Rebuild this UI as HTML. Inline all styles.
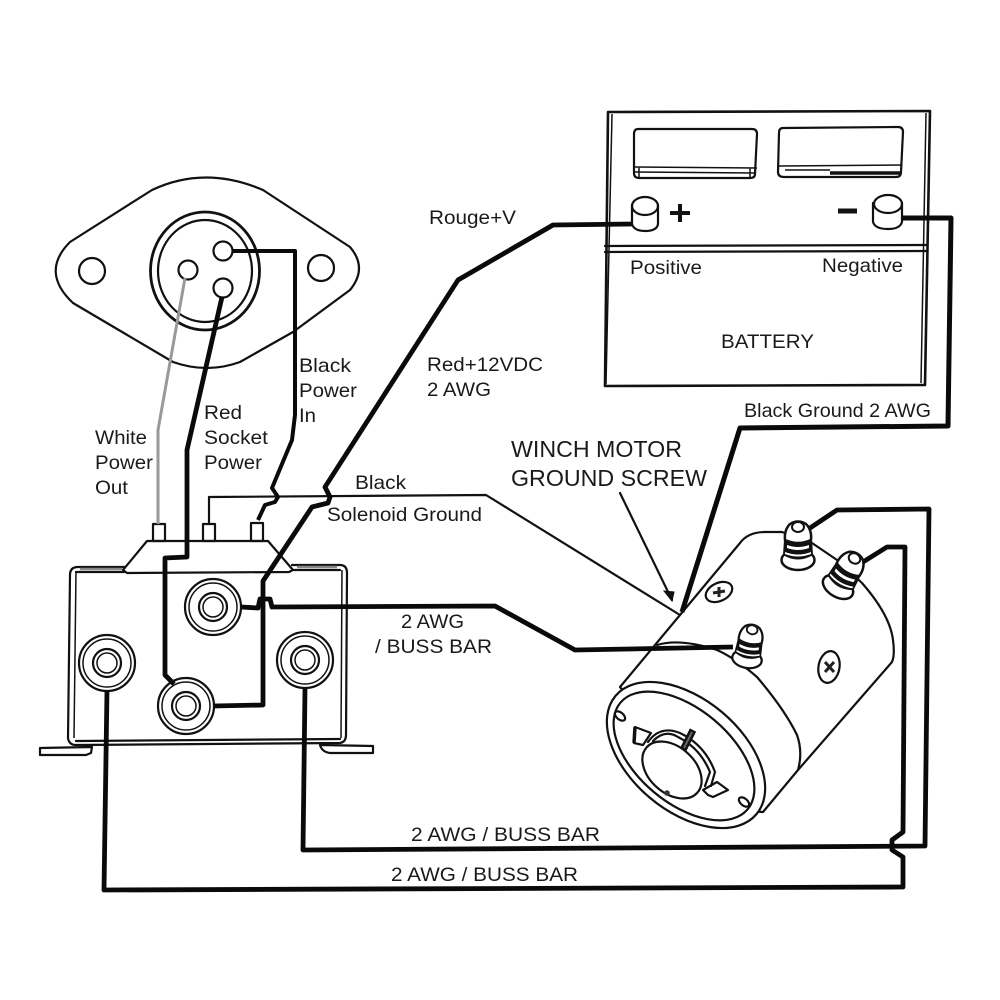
<!DOCTYPE html>
<html><head><meta charset="utf-8"><style>
html,body{margin:0;padding:0;background:#fff}
svg{display:block}
text{font-family:"Liberation Sans",sans-serif;fill:#1a1a1a;font-size:19.5px}
.l{fill:none;stroke:#111;stroke-width:2.2;stroke-linejoin:round;stroke-linecap:round}
.t{fill:none;stroke:#111;stroke-width:1.5;stroke-linejoin:round}
.w{fill:none;stroke:#0a0a0a;stroke-width:4.8;stroke-linejoin:round}
.f{fill:#fff;stroke:#111;stroke-width:2.2;stroke-linejoin:round}
</style></head><body>
<svg width="1000" height="1000" viewBox="0 0 1000 1000" xmlns="http://www.w3.org/2000/svg">
<defs>
<g id="stud">
<ellipse cx="0" cy="0" rx="16.5" ry="10" fill="#fff" stroke="#111" stroke-width="2.5"/>
<path d="M-14,-20 L14,-20 L15,-5 Q0,4 -15,-5 Z" fill="#111"/>
<path d="M-11,-15 Q0,-11 11,-15 L11,-12 Q0,-8 -11,-12 Z M-13,-8 Q0,-3 13,-8 L13,-6 Q0,-1 -13,-6 Z" fill="#fff"/>
<path d="M-13,-20 Q-14,-30 -8,-36 Q0,-41 8,-36 Q14,-30 13,-20 Q0,-14 -13,-20 Z" fill="#fff" stroke="#111" stroke-width="2.5"/>
<ellipse cx="0" cy="-33" rx="6" ry="5" fill="#fff" stroke="#111" stroke-width="2"/>
</g>
</defs>
<rect width="1000" height="1000" fill="#fff"/>

<!-- Battery -->
<path class="l" d="M608,112 L930,111 L925,385 L605,386 Z" style="stroke-width:2.6"/>
<path class="t" d="M612,114 L606,384 M926,113 L921,383"/>
<path class="l" d="M605,246 L926,245 M605,252 L926,251"/>
<path class="l" d="M638,129 L752,129 Q757,129 757,134 L755,174 Q755,178 750,178 L639,178 Q634,178 634,173 L634,134 Q634,129 638,129 Z"/>
<path class="t" d="M634,167 L757,168 M635,172 L755,173 M639,167 L639,178 M750,168 L750,177"/>
<path class="l" d="M783,128 L898,127 Q903,127 903,132 L901,172 Q901,177 896,177 L784,177 Q778,177 778,172 L779,133 Q779,128 783,128 Z"/>
<path class="t" d="M779,166 L902,165 M785,170 L830,170"/>
<path d="M830,173 L900,173" stroke="#111" stroke-width="3.5"/>
<path class="l" d="M632,205 L632,224 Q634,231 645,231 Q657,231 658,224 L658,205"/>
<ellipse class="l" cx="645" cy="206" rx="13" ry="9"/>
<path class="l" d="M873,203 L873,222 Q875,229 888,229 Q900,229 902,222 L902,203"/>
<ellipse class="l" cx="888" cy="204" rx="14" ry="9"/>
<path d="M680,204 V222 M670,213 H690" stroke="#111" stroke-width="4"/>
<path d="M838,211 H857" stroke="#111" stroke-width="5"/>
<text x="630" y="274" textLength="72" lengthAdjust="spacingAndGlyphs">Positive</text>
<text x="822" y="272" textLength="81" lengthAdjust="spacingAndGlyphs">Negative</text>
<text x="721" y="348" textLength="93" lengthAdjust="spacingAndGlyphs">BATTERY</text>

<!-- Socket plate -->
<path class="l" d="M70,242 L152,190 Q205,165 263,190 L350,247 Q368,268 350,290 L293,332 L240,362 Q207,374 173,362 L73,303 Q40,272 70,242 Z"/>
<circle class="l" cx="92" cy="271" r="13"/>
<circle class="l" cx="321" cy="268" r="13"/>
<ellipse cx="205" cy="271" rx="54.5" ry="59" fill="none" stroke="#111" stroke-width="2.8"/>
<ellipse class="l" cx="205" cy="271" rx="47" ry="51"/>
<circle class="l" cx="223" cy="251" r="9.5"/>
<circle class="l" cx="188" cy="270" r="9.5"/>
<circle class="l" cx="223" cy="288" r="9.5"/>

<!-- Solenoid box -->
<path class="l" d="M128,567 L78,567 Q70,567 70,575 L68,738 Q69,745 76,745 L340,743 Q346,742 346,735 L347,573 Q347,565 340,565 L292,565"/>
<path class="t" d="M76,571 L74,738 M342,570 L341,738"/>
<path class="l" d="M76,572 L124,572 M294,570 L340,570 M76,741 L340,739"/>
<path d="M80,569 H122 M297,567 H337" stroke="#888" stroke-width="2.5"/>
<path class="f" d="M147,541 L268,541 L293,570 L289,572 L127,573 L123,570 Z"/>
<path class="l" d="M92,747 L91,753 L86,755 L40,755 L40,748 L92,747 M320,745 Q322,752 330,753 L373,753 L373,746 L320,745"/>
<rect class="l" x="153" y="524" width="12" height="17"/>
<rect class="l" x="203" y="524" width="12" height="17"/>
<rect class="l" x="251" y="523" width="12" height="18"/>

<!-- Terminal studs -->
<g><circle class="f" cx="213" cy="607" r="28"/><circle class="t" cx="213" cy="607" r="24"/><circle class="l" cx="213" cy="607" r="14"/><circle class="t" cx="213" cy="607" r="10"/></g>
<g><circle class="f" cx="107" cy="663" r="28"/><circle class="t" cx="107" cy="663" r="24"/><circle class="l" cx="107" cy="663" r="14"/><circle class="t" cx="107" cy="663" r="10"/></g>
<g><circle class="f" cx="305" cy="660" r="28"/><circle class="t" cx="305" cy="660" r="24"/><circle class="l" cx="305" cy="660" r="14"/><circle class="t" cx="305" cy="660" r="10"/></g>
<g><circle class="f" cx="186" cy="706" r="28"/><circle class="t" cx="186" cy="706" r="24"/><circle class="l" cx="186" cy="706" r="14"/><circle class="t" cx="186" cy="706" r="10"/></g>

<!-- Motor -->
<path class="f" d="M620,687 L740,543 Q748,532 765,532 L782,532 L812,543 L840,562 L862,583 Q890,615 893,640 Q895,655 892,662 L798,770 L763,812 L720,810 Z"/>
<ellipse class="f" cx="686" cy="755" rx="92" ry="56" transform="rotate(40 686 755)"/>
<ellipse class="l" cx="684" cy="756" rx="83" ry="47" transform="rotate(40 684 756)"/>
<path class="l" d="M657,645 Q680,638 717,650 Q735,658 757,677 Q785,710 797,735 Q803,752 798,770"/>
<ellipse class="l" cx="620" cy="716" rx="6" ry="3.5" transform="rotate(40 620 716)"/>
<ellipse class="l" cx="744" cy="802" rx="6" ry="3.5" transform="rotate(40 744 802)"/>
<path class="l" d="M635,727 L651,733 L643,745 L634,743 Z"/>
<path d="M635,727 L634,743" stroke="#111" stroke-width="3.5"/>
<path class="l" d="M703,790 L717,782 L728,790 L713,797 L708,795 Z"/>
<path class="l" d="M648,742 Q660,725 680,733 Q705,745 715,772 L711,786"/>
<path class="l" d="M653,741 Q665,729 678,737 Q700,748 710,772 L705,786"/>
<ellipse class="f" cx="672" cy="770" rx="34" ry="23" transform="rotate(42 672 770)"/>
<path d="M683,750 L693,730" stroke="#111" stroke-width="7"/>
<path d="M684,748 L692,732" stroke="#666" stroke-width="2"/>
<circle cx="667" cy="793" r="2.8" fill="#333"/>
<ellipse class="l" cx="719" cy="592" rx="14" ry="9" transform="rotate(-25 719 592)"/>
<path d="M713,593 L725,591 M719,587 L719,597" stroke="#222" stroke-width="3"/>
<ellipse class="l" cx="829" cy="667" rx="10.5" ry="16" transform="rotate(10 829 667)"/>
<path d="M825,662 L834,672 M834,662 L825,672" stroke="#222" stroke-width="3"/>

<!-- Thin lines -->
<path class="l" d="M209,524 L209,497 L486,495 L680,615"/>
<path class="l" d="M620,493 L672,600"/>
<path d="M664,591 L674,592 L672,601 Z" fill="#111" stroke="#111"/>

<!-- White wire -->
<path d="M185,278 L158,430 L158,524" fill="none" stroke="#999" stroke-width="3"/>

<!-- Wires -->
<path class="w" d="M222,297 L187,450 L187,557 L165,558 L165,675 L174,684"/>
<path class="w" style="stroke-width:4" d="M232,251 L295,251 L295,415 L292,440 L272,488 L278,497 L275,502 L265,505 L258,520"/>
<path class="w" d="M633,224 L553,225 L458,280 L325,487 L330,497 L328,503 L312,507 L267,575 L263,581 L263,705 L213,706"/>
<path class="w" d="M241,607 L258,608 L260,599 L270,599 L272,607 L495,606 L575,650 L733,647"/>
<path class="w" d="M902,218 L951,218 L948,426 L740,428 L682,612" style="stroke-width:5"/>
<path class="w" d="M810,528 L837,510 L929,509 L925,846 L303,850 L305,688"/>
<path class="w" d="M863,562 L887,547 L905,547 L903,832 L892,840 L892,850 L903,857 L903,887 L104,890 L107,690"/>

<!-- Motor terminals -->
<use href="#stud" transform="translate(798,560)"/>
<use href="#stud" transform="translate(838,587) rotate(30)"/>
<use href="#stud" transform="translate(747,659) rotate(10) scale(.9)"/>

<!-- Labels -->
<text x="429" y="224" textLength="87" lengthAdjust="spacingAndGlyphs">Rouge+V</text>
<text x="95" y="444" textLength="52" lengthAdjust="spacingAndGlyphs">White</text>
<text x="95" y="469" textLength="58" lengthAdjust="spacingAndGlyphs">Power</text>
<text x="95" y="494" textLength="33" lengthAdjust="spacingAndGlyphs">Out</text>
<text x="204" y="419" textLength="38" lengthAdjust="spacingAndGlyphs">Red</text>
<text x="204" y="444" textLength="64" lengthAdjust="spacingAndGlyphs">Socket</text>
<text x="204" y="469" textLength="58" lengthAdjust="spacingAndGlyphs">Power</text>
<text x="299" y="372" textLength="52" lengthAdjust="spacingAndGlyphs">Black</text>
<text x="299" y="397" textLength="58" lengthAdjust="spacingAndGlyphs">Power</text>
<text x="299" y="422" textLength="17" lengthAdjust="spacingAndGlyphs">In</text>
<text x="427" y="371" textLength="116" lengthAdjust="spacingAndGlyphs">Red+12VDC</text>
<text x="427" y="396" textLength="64" lengthAdjust="spacingAndGlyphs">2 AWG</text>
<text x="355" y="489" textLength="51" lengthAdjust="spacingAndGlyphs">Black</text>
<text x="327" y="521" textLength="155" lengthAdjust="spacingAndGlyphs">Solenoid Ground</text>
<text x="744" y="417" textLength="187" lengthAdjust="spacingAndGlyphs">Black Ground 2 AWG</text>
<text x="511" y="457" textLength="171" lengthAdjust="spacingAndGlyphs" style="font-size:23px">WINCH MOTOR</text>
<text x="511" y="486" textLength="196" lengthAdjust="spacingAndGlyphs" style="font-size:23px">GROUND SCREW</text>
<text x="401" y="628" textLength="63" lengthAdjust="spacingAndGlyphs">2 AWG</text>
<text x="375" y="653" textLength="117" lengthAdjust="spacingAndGlyphs">/ BUSS BAR</text>
<text x="411" y="841" textLength="189" lengthAdjust="spacingAndGlyphs">2 AWG / BUSS BAR</text>
<text x="391" y="881" textLength="187" lengthAdjust="spacingAndGlyphs">2 AWG / BUSS BAR</text>
</svg>
</body></html>
